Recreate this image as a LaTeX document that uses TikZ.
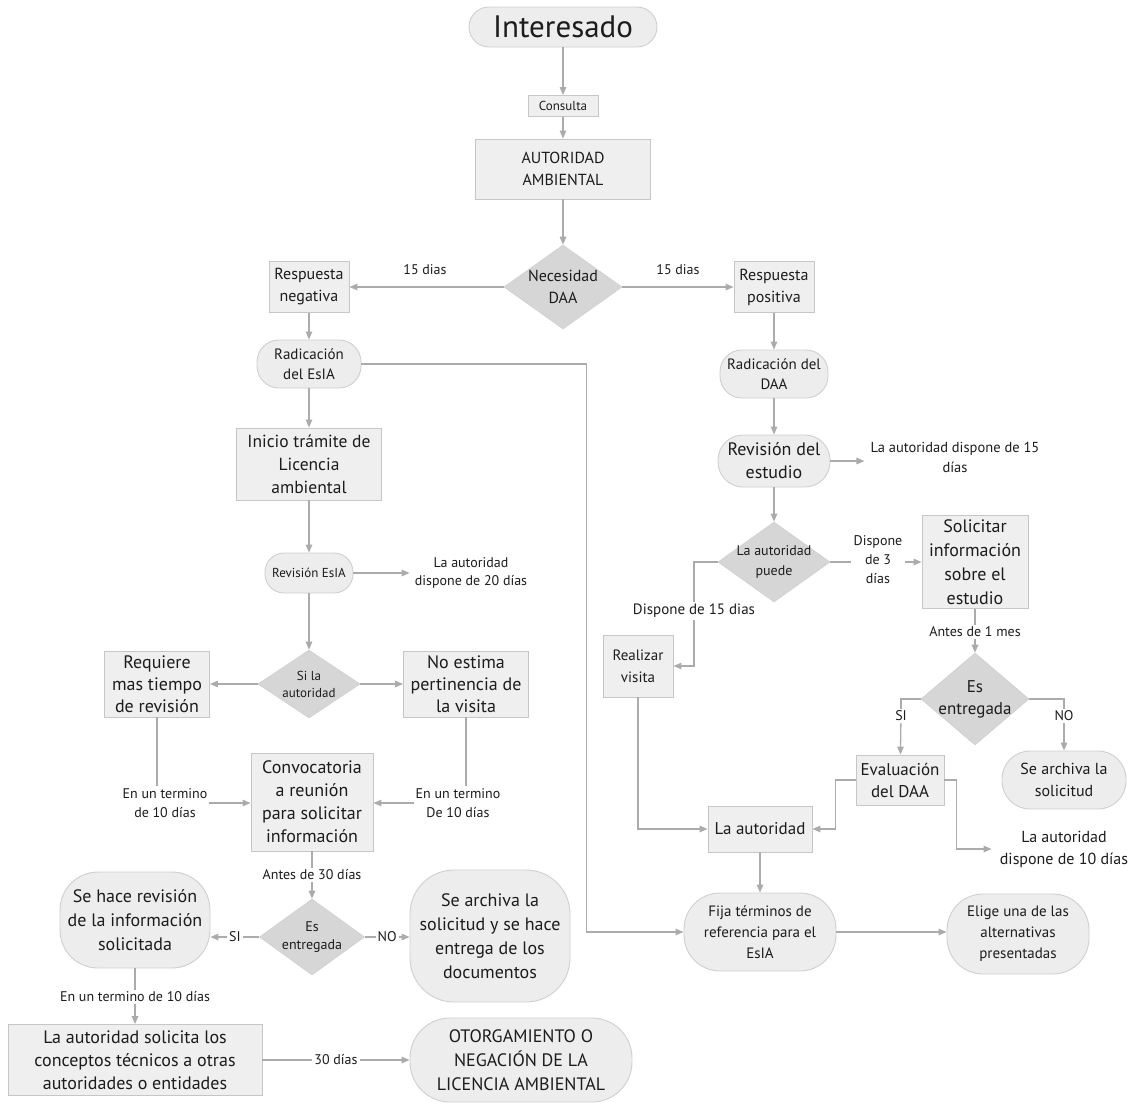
\documentclass[tikz,border=0pt]{standalone}
\usepackage{fontspec}
\setmainfont{PT Sans}
\usetikzlibrary{arrows.meta,shapes.geometric,calc}

\definecolor{boxfill}{HTML}{EFEFEF}
\definecolor{boxline}{HTML}{C6C6C6}
\definecolor{pillfill}{HTML}{EDEDED}
\definecolor{pillline}{HTML}{CFCFCF}
\definecolor{decfill}{HTML}{D6D6D6}
\definecolor{decline}{HTML}{CFCFCF}
\definecolor{linkcol}{HTML}{ABABAB}
\definecolor{inkcol}{HTML}{1C1C1C}

\newcommand\fsz[2]{\fontsize{#1pt}{#2pt}\selectfont}

\begin{document}
\begin{tikzpicture}[x=1pt,y=-1pt,
  every node/.style={text=inkcol, align=center, inner sep=0pt},
  box/.style 2 args={rectangle, draw=boxline, fill=boxfill, line width=0.9pt,
    minimum width=#1pt, minimum height=#2pt},
  pill/.style n args={3}{rectangle, rounded corners=#3pt, draw=pillline,
    fill=pillfill, line width=0.9pt, minimum width=#1pt, minimum height=#2pt},
  dec/.style 2 args={diamond, fill=decfill, draw=decline, line width=0.6pt,
    inner sep=-30pt, minimum width=#1pt, minimum height=#2pt},
  lbl/.style={fill=white, inner sep=2pt},
  wire/.style={draw=linkcol, line width=1.3pt},
  flow/.style={wire, -{Triangle[length=8pt,width=6.5pt]}}
]
\useasboundingbox (0,0) rectangle (1139,1106);

% ---------- top spine ----------
\node[pill={188}{40}{20}, font=\fsz{31}{36}] (int) at (563,27) {Interesado};
\node[box={70}{21}, font=\fsz{13}{15}] (cons) at (563,106) {Consulta};
\node[box={175}{60}, font=\fsz{16}{22}] (aut) at (563,169) {AUTORIDAD\\AMBIENTAL};
\node[dec={118}{84}, font=\fsz{16}{22}] (nec) at (563,287) {Necesidad\\DAA};
\node[box={80}{51}, font=\fsz{16}{22}] (neg) at (309,287) {Respuesta\\negativa};
\node[box={80}{51}, font=\fsz{16}{22}] (pos) at (774,287) {Respuesta\\positiva};
\node[font=\fsz{14}{16}] (qa) at (425,270) {15 dias};
\node[font=\fsz{14}{16}] (qb) at (678,270) {15 dias};

% ---------- left branch ----------
\node[pill={104}{48}{22}, font=\fsz{15}{20}] (radE) at (309,364) {Radicación\\del EsIA};
\node[box={145}{72}, font=\fsz{17.5}{23}] (ini) at (309,464) {Inicio trámite de\\Licencia\\ambiental};
\node[pill={88}{40}{19}, font=\fsz{13}{16}] (revE) at (309,573) {Revisión EsIA};
\node[font=\fsz{14}{18}] (d20) at (471,573) {La autoridad\\dispone de 20 días};
\node[dec={102}{68}, font=\fsz{13}{17}] (sila) at (309,684) {Si la\\autoridad};
\node[box={105}{66}, font=\fsz{18}{22}] (req) at (157,684) {Requiere\\mas tiempo\\de revisión};
\node[box={125}{66}, font=\fsz{18}{22}] (noe) at (466,684) {No estima\\pertinencia de\\la visita};
\node[box={122}{98}, font=\fsz{18}{23}] (conv) at (312,802) {Convocatoria\\a reunión\\para solicitar\\información};
\node[lbl, font=\fsz{14}{19}] (ta) at (165,803) {En un termino\\de 10 días};
\node[lbl, font=\fsz{14}{19}] (tb) at (458,803) {En un termino\\De 10 días};
\node[lbl, font=\fsz{14}{16}] (a30) at (312,875) {Antes de 30 días};
\node[dec={105}{76}, font=\fsz{14}{18}] (entL) at (312,937) {Es\\entregada};
\node[pill={150}{96}{38}, font=\fsz{18}{24}] (shr) at (135,920) {Se hace revisión\\de la información\\solicitada};
\node[pill={160}{132}{44}, font=\fsz{18}{24}] (arcL) at (490,936) {Se archiva la\\solicitud y se hace\\entrega de los\\documentos};
\node[lbl, font=\fsz{14}{16}] (tc) at (135,997) {En un termino de 10 días};
\node[box={254}{71}, font=\fsz{18}{23}] (sol) at (135,1060) {La autoridad solicita los\\conceptos técnicos a otras\\autoridades o entidades};
\node[pill={222}{84}{40}, font=\fsz{18}{24}] (oto) at (521,1060) {OTORGAMIENTO O\\NEGACIÓN DE LA\\LICENCIA AMBIENTAL};

% ---------- right branch ----------
\node[pill={108}{48}{22}, font=\fsz{15}{20}] (radD) at (774,374) {Radicación del\\DAA};
\node[pill={112}{52}{25}, font=\fsz{18}{23}] (rev) at (774,461) {Revisión del\\estudio};
\node[font=\fsz{14.5}{20}] (d15) at (955,457) {La autoridad dispone de 15\\días};
\node[dec={112}{80}, font=\fsz{14}{20}] (pue) at (774,562) {La autoridad\\puede};
\node[box={106}{93}, font=\fsz{18}{24}] (soli) at (975,562) {Solicitar\\información\\sobre el\\estudio};
\node[lbl, font=\fsz{14}{19}] (d3) at (878,560) {Dispone\\de 3\\días};
\node[lbl, font=\fsz{15}{17}] (d15b) at (694,611) {Dispone de 15 dias};
\node[box={70}{62}, font=\fsz{15}{22}] (vis) at (638,666) {Realizar\\visita};
\node[lbl, font=\fsz{14}{16}] (a1m) at (975,632) {Antes de 1 mes};
\node[dec={108}{92}, font=\fsz{17}{22}] (entR) at (975,699) {Es\\entregada};
\node[lbl, font=\fsz{14}{16}] (siR) at (901,716) {SI};
\node[lbl, font=\fsz{14}{16}] (noR) at (1064,716) {NO};
\node[box={88}{50}, font=\fsz{17}{22}] (eva) at (900,780) {Evaluación\\del DAA};
\node[pill={124}{58}{28}, font=\fsz{16}{22}] (arcR) at (1064,780) {Se archiva la\\solicitud};
\node[box={104}{46}, font=\fsz{17}{20}] (laut) at (760,829) {La autoridad};
\node[font=\fsz{16}{22}] (d10) at (1064,849) {La autoridad\\dispone de 10 días};
\node[pill={152}{78}{36}, font=\fsz{15}{21}] (fija) at (760,932) {Fija términos de\\referencia para el\\EsIA};
\node[pill={142}{80}{36}, font=\fsz{15}{21}] (eli) at (1018,934) {Elige una de las\\alternativas\\presentadas};

% ---------- connectors: top ----------
\draw[flow] (int) -- (cons);
\draw[flow] (cons) -- (aut);
\draw[flow] (aut) -- (nec);
\draw[flow] (nec) -- (neg);
\draw[flow] (nec) -- (pos);

% ---------- connectors: left ----------
\draw[flow] (neg) -- (radE);
\draw[flow] (radE) -- (ini);
\draw[flow] (ini) -- (revE);
\draw[flow, shorten >=5pt] (revE) -- (revE -| d20.west);
\draw[flow] (revE) -- (sila);
\draw[flow] (sila) -- (req);
\draw[flow] (sila) -- (noe);
\draw[wire] (req.south) -- (req.south |- ta.north);
\draw[flow] (ta.east) -- (ta.east -| conv.west);
\draw[wire] (noe.south) -- (noe.south |- tb.north);
\draw[flow] (tb.west) -- (tb.west -| conv.east);
\draw[wire] (conv) -- (a30);
\draw[flow] (a30) -- (entL);
\draw[flow] (entL.west) -- node[lbl, font=\fsz{14}{16}] {SI} (entL.west -| shr.east);
\draw[flow] (entL.east) -- node[lbl, font=\fsz{14}{16}] {NO} (entL.east -| arcL.west);
\draw[wire] (shr) -- (tc);
\draw[flow] (tc) -- (sol);
\draw[flow] (sol) -- node[lbl, font=\fsz{14}{16}] {30 días} (oto);
\draw[flow] (radE.east) -- ++(225,0) |- (fija.west);

% ---------- connectors: right ----------
\draw[flow] (pos) -- (radD);
\draw[flow] (radD) -- (rev);
\draw[flow, shorten >=6pt] (rev.east) -- (rev.east -| d15.west);
\draw[flow] (rev) -- (pue);
\draw[wire] (pue.east) -- (pue.east -| d3.west);
\draw[flow] (d3.east |- soli.west) -- (soli.west);
\draw[wire] (pue.west) -| (d15b.north);
\draw[flow] (d15b.south) |- (vis.east);
\draw[wire] (soli) -- (a1m);
\draw[flow] (a1m) -- (entR);
\draw[wire] (entR.west) -| (siR.north);
\draw[flow] (siR) -- (eva);
\draw[wire] (entR.east) -| (noR.north);
\draw[flow] (noR) -- (arcR);
\draw[flow] (eva.west) -- ++(-20,0) |- (laut.east);
\draw[flow, shorten >=8pt] (eva.east) -- ++(12,0) |- (d10.west);
\draw[flow] (vis.south) |- (laut.west);
\draw[flow] (laut) -- (fija);
\draw[flow] (fija.east) -- (fija.east -| eli.west);
\end{tikzpicture}
\end{document}
